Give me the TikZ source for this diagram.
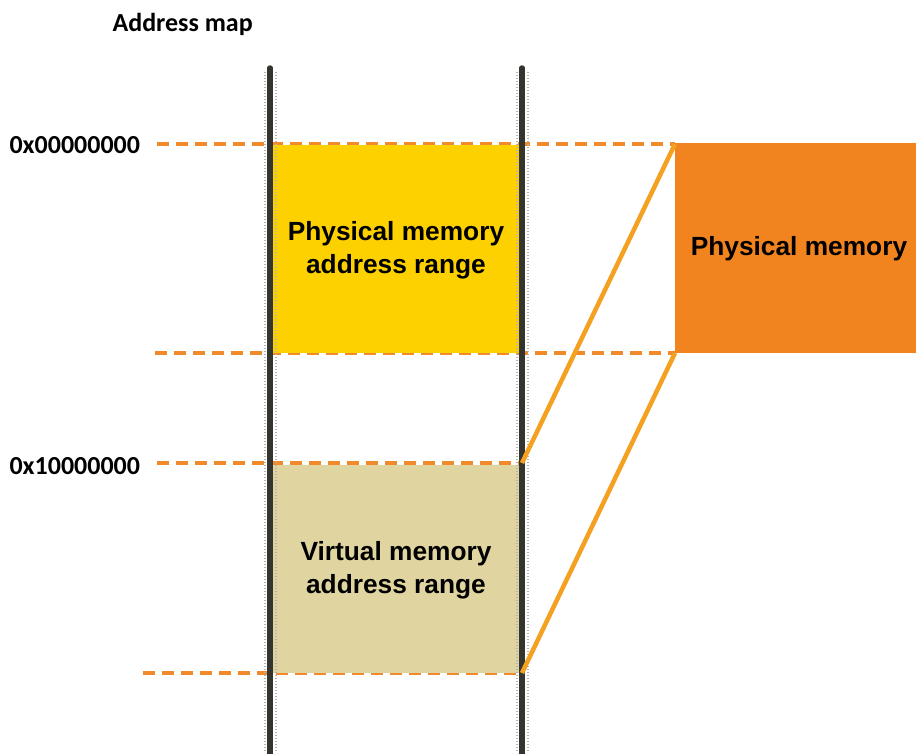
\documentclass[tikz,border=0pt]{standalone}
\usepackage{fontspec}
\setmainfont{Liberation Sans}
\newfontfamily\calib{Carlito}
\definecolor{dashor}{HTML}{F08A2A}
\definecolor{lineor}{HTML}{F4A020}
\definecolor{boxyel}{HTML}{FDD000}
\definecolor{boxtan}{HTML}{E0D4A0}
\definecolor{boxor}{HTML}{F2841F}
\definecolor{rail}{HTML}{35352F}
\begin{document}
\begin{tikzpicture}[x=1pt,y=-1pt,
  dashl/.style={draw=dashor,line width=3.5pt,dash pattern=on 12pt off 7pt},
  link/.style={draw=lineor,line width=4.5pt},
  railln/.style={draw=rail,line width=5.5pt,line cap=round},
  shade/.style={draw=gray!60,line width=1.5pt,dash pattern=on 1pt off 2pt},
  boxtxt/.style={font=\fontsize{26.3}{33}\selectfont\bfseries,align=center,text=black},
  addr/.style={font=\calib\fontsize{26}{30}\selectfont\bfseries,anchor=west,text=black}]
\useasboundingbox (0,0) rectangle (916,753);
% dashed guide lines
\coordinate (d1a) at (157,144); \coordinate (d1b) at (675,144);
\coordinate (d2a) at (155,353); \coordinate (d2b) at (675,353);
\coordinate (d3a) at (157,463); \coordinate (d3b) at (522,463);
\coordinate (d4a) at (143,673); \coordinate (d4b) at (522,673);
\draw[dashl] (d1a) -- (d1b);
\draw[dashl] (d2a) -- (d2b);
\draw[dashl] (d3a) -- (d3b);
\draw[dashl] (d4a) -- (d4b);
% boxes
\fill[boxyel] (270,145) rectangle (522,353);
\fill[boxtan] (270,465) rectangle (522,673);
\fill[boxor] (675,143) rectangle (916,353);
% rail shading
\foreach \xx in {265,276,517,528}{
  \draw[shade] (\xx,72) -- (\xx,753);
}
% rails
\coordinate (r1t) at (270,68); \coordinate (r1b) at (270,760);
\coordinate (r2t) at (522,68); \coordinate (r2b) at (522,760);
\draw[railln] (r1t) -- (r1b);
\draw[railln] (r2t) -- (r2b);
% links
\draw[link] (d3b) -- (d1b);
\draw[link] (d4b) -- (d2b);
% texts
\node[boxtxt] (pmr) at (396,250) {Physical memory\\address range};
\node[boxtxt] (vmr) at (396,570) {Virtual memory\\address range};
\node[boxtxt] (pm) at (799,249) {Physical memory};
\node[addr] (a0) at (6,145) {0x00000000};
\node[addr] (a1) at (6,466) {0x10000000};
\node[addr] (am) at (109,24) {Address map};
\end{tikzpicture}
\end{document}
